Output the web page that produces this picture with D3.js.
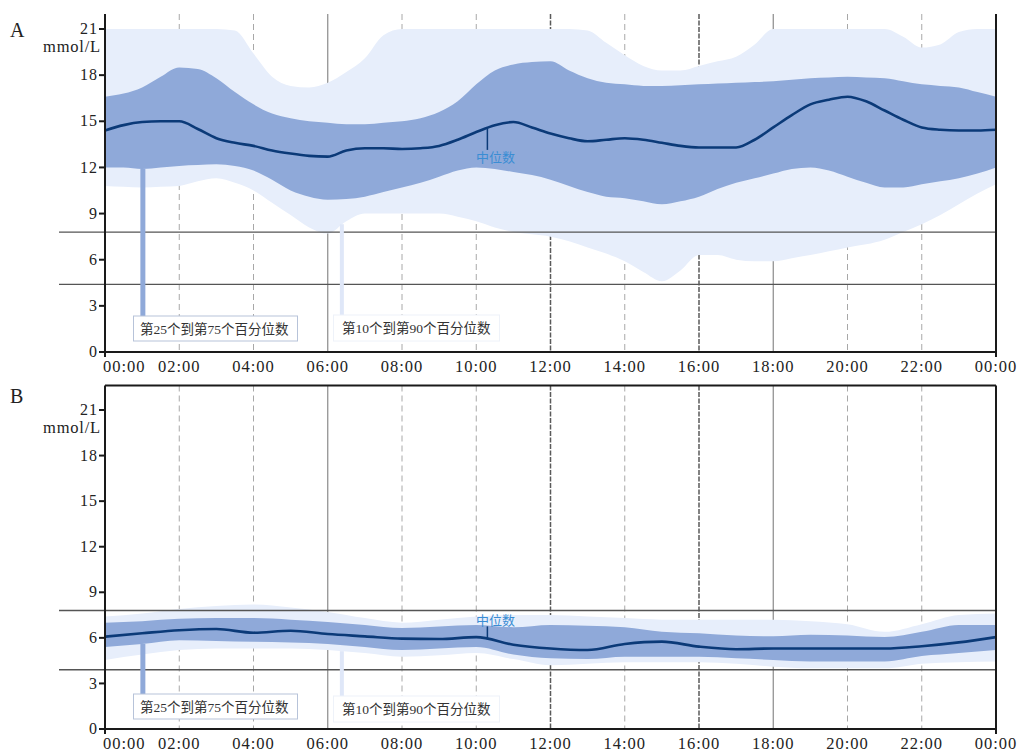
<!DOCTYPE html>
<html>
<head>
<meta charset="utf-8">
<script src="https://cdn.jsdelivr.net/npm/d3@7"></script>
<style>
  body { margin: 0; background: #fff; }
  text { font-family: "Liberation Serif", "Noto Sans CJK SC", serif; }
</style>
</head>
<body>
<svg id="chart" width="1017" height="754"></svg>
<script>
// ---- data -------------------------------------------------------------
const timeLabels = ["00:00","02:00","04:00","06:00","08:00","10:00","12:00",
                    "14:00","16:00","18:00","20:00","22:00","00:00"];
const tickHours  = [0,2,4,6,8,10,12,14,16,18,20,22,24];
const yTicks     = [0,3,6,9,12,15,18,21];
const gridHours  = [2,4,6,8,10,12,14,16,18,20,22];

// Panel A: half-hourly profile, mmol/L
const hoursA = [0,0.5,1,1.5,2,2.5,3,3.5,4,4.5,5,5.5,6,6.5,7,7.5,8,8.5,9,9.5,10,10.5,11,11.5,
                12,12.5,13,13.5,14,14.5,15,15.5,16,16.5,17,17.5,18,18.5,19,19.5,20,20.5,21,21.5,
                22,22.5,23,23.5,24];
const a_p90 = [21,21,21,21,21,21,21,20.9,19.4,17.9,17.3,17.2,17.5,18.2,19.1,20.6,21,21,21,21,
               21,21,21,21,21,21,20.9,20.1,19.3,18.6,18.3,18.3,18.6,18.9,19.2,20.0,21,21,21,21,
               21,21,21,20.5,19.8,20.0,20.8,21,21];
const a_p75 = [16.6,16.8,17.2,17.9,18.5,18.4,17.8,16.9,16.1,15.5,15.2,15.0,14.9,14.8,14.8,14.9,
               15.0,15.2,15.6,16.3,17.4,18.3,18.7,18.85,18.9,18.3,17.8,17.5,17.4,17.3,17.3,17.35,
               17.4,17.45,17.5,17.55,17.6,17.7,17.8,17.85,17.9,17.85,17.8,17.6,17.4,17.3,17.2,16.9,16.6];
const a_p50 = [14.4,14.75,14.95,15.0,15.0,14.5,13.9,13.6,13.4,13.1,12.9,12.75,12.7,13.1,13.25,13.25,
               13.2,13.25,13.4,13.8,14.3,14.75,14.95,14.6,14.2,13.9,13.7,13.8,13.9,13.8,13.6,13.4,
               13.3,13.3,13.3,13.8,14.6,15.4,16.1,16.4,16.6,16.3,15.7,15.1,14.6,14.45,14.4,14.4,14.45];
const a_p25 = [12.0,12.0,11.9,12.0,12.1,12.15,12.2,12.1,11.8,11.2,10.5,10.1,9.9,9.95,10.1,10.4,
               10.7,11.0,11.4,11.8,12.0,11.9,11.7,11.5,11.2,10.8,10.4,10.1,10.0,9.8,9.6,9.8,
               10.1,10.6,11.0,11.3,11.6,11.9,12.0,11.8,11.4,11.0,10.7,10.7,10.9,11.1,11.3,11.6,12.0];
const a_p10 = [10.8,10.75,10.7,10.75,10.8,11.1,11.3,11.0,10.5,9.7,8.9,8.1,7.7,8.5,9.0,9.0,
               9.0,9.0,9.0,8.8,8.5,8.1,7.8,7.65,7.5,7.2,6.8,6.4,5.9,5.2,4.6,5.3,
               6.3,6.3,6.0,5.9,5.9,6.1,6.3,6.55,6.8,7.0,7.3,7.8,8.3,8.9,9.6,10.3,10.9];

// Panel B: hourly profile, mmol/L
const hoursB = [0,1,2,3,4,5,6,7,8,9,10,11,12,13,14,15,16,17,18,19,20,21,22,23,24];
const b_p90 = [7.4,7.6,7.9,8.1,8.2,8.0,7.7,7.3,7.0,7.2,7.4,7.5,7.5,7.4,7.3,7.2,7.2,7.2,7.2,7.1,6.9,6.4,6.9,7.5,7.6];
const b_p75 = [7.0,7.1,7.25,7.3,7.3,7.2,7.05,6.85,6.65,6.75,6.85,6.7,6.85,6.8,6.7,6.4,6.3,6.15,6.1,6.2,6.15,6.05,6.4,6.85,6.85];
const b_p50 = [6.08,6.3,6.5,6.58,6.34,6.47,6.25,6.1,5.95,5.92,6.05,5.55,5.3,5.2,5.6,5.75,5.42,5.25,5.3,5.3,5.3,5.3,5.45,5.7,6.05];
const b_p25 = [5.4,5.6,5.85,5.8,5.75,5.7,5.6,5.4,5.2,5.3,5.4,4.9,4.65,4.6,4.75,4.75,4.75,4.65,4.55,4.45,4.45,4.45,4.8,5.0,5.2];
const b_p10 = [4.55,4.9,5.2,5.3,5.3,5.3,5.2,5.0,4.75,4.85,5.0,4.6,4.2,4.3,4.4,4.4,4.4,4.3,4.1,4.0,4.0,4.0,4.3,4.4,4.45];

const targetA = [4.4, 7.8];
const targetB = [3.9, 7.8];

const labelIQR   = "第25个到第75个百分位数";
const labelOuter = "第10个到第90个百分位数";
const labelMed   = "中位数";

// ---- styling ----------------------------------------------------------
const C = {
  outer: "#e7eefb",
  iqr: "#8fa9d9",
  median: "#0b3a78",
  medText: "#3a8dd4",
  axis: "#1a1a1a",
  target: "#555"
};

const svg = d3.select("#chart");
const x = d3.scaleLinear().domain([0, 24]).range([105, 996]);

function interp(hours, vals, t) {
  return d3.scaleLinear().domain(hours).range(vals)(t);
}

function drawPanel(cfg) {
  const g = svg.append("g");
  const y = d3.scaleLinear().domain([0, 21]).range([cfg.y0, cfg.y21]);
  const top = cfg.top, bottom = cfg.y0;
  const rows = cfg.hours.map((h, i) => ({
    h, p10: cfg.p10[i], p25: cfg.p25[i], p50: cfg.p50[i], p75: cfg.p75[i], p90: cfg.p90[i]
  }));

  // vertical hour grid
  gridHours.forEach(hh => {
    let stroke = "#a8a8a8", dash = "6,4", w = 1;
    if (hh === 6 || hh === 18) { stroke = "#8a8a8a"; dash = null; w = 1.2; }
    if (hh === 12 || hh === 16) { stroke = "#5a5a5a"; dash = "5,1.5"; w = 1.5; }
    g.append("line")
      .attr("x1", x(hh)).attr("x2", x(hh))
      .attr("y1", top).attr("y2", bottom)
      .attr("stroke", stroke).attr("stroke-width", w)
      .attr("stroke-dasharray", dash);
  });

  // percentile bands
  const band = (lo, hi) => d3.area().curve(d3.curveMonotoneX)
    .x(d => x(d.h)).y0(d => y(d[lo])).y1(d => y(d[hi]));
  g.append("path").datum(rows).attr("d", band("p10", "p90")).attr("fill", C.outer);
  g.append("path").datum(rows).attr("d", band("p25", "p75")).attr("fill", C.iqr);

  // target range lines
  cfg.target.forEach(v => {
    g.append("line")
      .attr("x1", 59).attr("x2", x(24))
      .attr("y1", y(v)).attr("y2", y(v))
      .attr("stroke", C.target).attr("stroke-width", 1.3);
  });

  // median
  g.append("path").datum(rows)
    .attr("d", d3.line().curve(d3.curveMonotoneX).x(d => x(d.h)).y(d => y(d.p50)))
    .attr("fill", "none").attr("stroke", C.median).attr("stroke-width", 2.6);

  // legend pointers and boxes
  const tIqr = 1.02, tOut = 6.38;
  const boxTop1 = bottom - cfg.boxOff1, boxTop2 = bottom - cfg.boxOff2;
  g.append("rect")
    .attr("x", x(tIqr) - 2.5).attr("width", 5)
    .attr("y", y(interp(cfg.hours, cfg.p25, tIqr)))
    .attr("height", boxTop1 - y(interp(cfg.hours, cfg.p25, tIqr)))
    .attr("fill", C.iqr);
  g.append("rect")
    .attr("x", x(tOut) - 2).attr("width", 4)
    .attr("y", y(interp(cfg.hours, cfg.p10, tOut)))
    .attr("height", boxTop2 - y(interp(cfg.hours, cfg.p10, tOut)))
    .attr("fill", "#dfe7f8");

  g.append("rect").attr("x", 133.5).attr("y", boxTop1).attr("width", 164).attr("height", 25)
    .attr("fill", "#fff").attr("stroke", "#b7c3d9").attr("stroke-width", 1);
  g.append("text").attr("x", 140).attr("y", boxTop1 + 18)
    .attr("font-size", 13.5).attr("fill", "#333").text(labelIQR);
  g.append("rect").attr("x", 333.5).attr("y", boxTop2).attr("width", 166).attr("height", 26)
    .attr("fill", "#fff").attr("stroke", "#eef2f9").attr("stroke-width", 1);
  g.append("text").attr("x", 342).attr("y", boxTop2 + 18)
    .attr("font-size", 13.5).attr("fill", "#333").text(labelOuter);

  // median annotation
  const tMed = 10.3;
  const ym = y(interp(cfg.hours, cfg.p50, tMed));
  if (cfg.medBelow) {
    g.append("line").attr("x1", x(tMed)).attr("x2", x(tMed))
      .attr("y1", ym).attr("y2", ym + 22).attr("stroke", C.median).attr("stroke-width", 1.5);
    g.append("text").attr("x", x(tMed) + 8).attr("y", ym + 34).attr("text-anchor", "middle")
      .attr("font-size", 13).attr("fill", C.medText).text(labelMed);
  } else {
    g.append("line").attr("x1", x(tMed)).attr("x2", x(tMed))
      .attr("y1", ym).attr("y2", ym - 13).attr("stroke", C.median).attr("stroke-width", 1.5);
    g.append("text").attr("x", x(tMed) + 8).attr("y", ym - 14).attr("text-anchor", "middle")
      .attr("font-size", 13).attr("fill", C.medText).text(labelMed);
  }

  // frame: left axis, bottom axis, right border, optional top border
  g.append("line").attr("x1", x(0)).attr("x2", x(0)).attr("y1", top).attr("y2", bottom + 5)
    .attr("stroke", C.axis).attr("stroke-width", 2);
  g.append("line").attr("x1", x(24)).attr("x2", x(24)).attr("y1", top).attr("y2", bottom + 5)
    .attr("stroke", C.axis).attr("stroke-width", 2);
  g.append("line").attr("x1", x(0)).attr("x2", x(24)).attr("y1", bottom).attr("y2", bottom)
    .attr("stroke", C.axis).attr("stroke-width", 2);
  if (cfg.topBorder) {
    g.append("line").attr("x1", x(0)).attr("x2", x(24)).attr("y1", top).attr("y2", top)
      .attr("stroke", C.axis).attr("stroke-width", 2);
  }

  // y ticks
  yTicks.forEach(v => {
    g.append("line").attr("x1", x(0) - 6).attr("x2", x(0))
      .attr("y1", y(v)).attr("y2", y(v)).attr("stroke", C.axis).attr("stroke-width", 2);
    g.append("text").attr("x", 98).attr("y", y(v)).attr("dy", "0.32em")
      .attr("text-anchor", "end").attr("font-size", 16).attr("letter-spacing", 1)
      .attr("fill", "#222").text(v);
  });
  g.append("text").attr("x", 101).attr("y", y(21) + 23)
    .attr("text-anchor", "end").attr("font-size", 16.5).attr("letter-spacing", 0.8)
    .attr("fill", "#222").text("mmol/L");

  // x tick labels (first one starts at the axis so it clears the "0" label)
  tickHours.forEach((hh, i) => {
    g.append("text").attr("x", i === 0 ? x(hh) - 2 : x(hh)).attr("y", bottom + 20)
      .attr("text-anchor", i === 0 ? "start" : "middle")
      .attr("font-size", 16.5).attr("letter-spacing", 1).attr("fill", "#222")
      .text(timeLabels[i]);
  });

  // panel letter
  g.append("text").attr("x", 10).attr("y", cfg.letterY)
    .attr("font-size", 20).attr("fill", "#222").text(cfg.letter);
}

drawPanel({
  letter: "A", letterY: 37, top: 14, y0: 352, y21: 29, topBorder: false,
  hours: hoursA, p10: a_p10, p25: a_p25, p50: a_p50, p75: a_p75, p90: a_p90,
  target: targetA, boxOff1: 36, boxOff2: 37, medBelow: true
});
drawPanel({
  letter: "B", letterY: 403, top: 385.5, y0: 729, y21: 410, topBorder: true,
  hours: hoursB, p10: b_p10, p25: b_p25, p50: b_p50, p75: b_p75, p90: b_p90,
  target: targetB, boxOff1: 35, boxOff2: 33, medBelow: false
});
</script>
</body>
</html>
